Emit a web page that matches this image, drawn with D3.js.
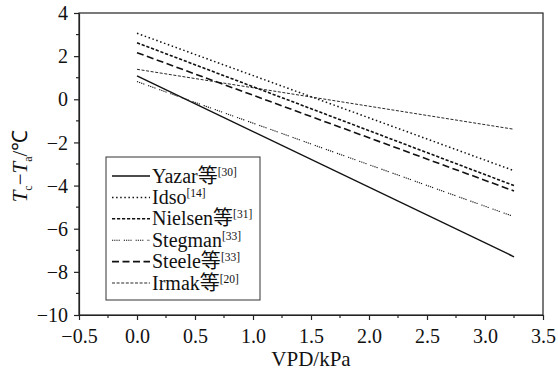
<!DOCTYPE html>
<html><head><meta charset="utf-8">
<script src="https://cdn.jsdelivr.net/npm/d3@7"></script>
<style>body{margin:0;background:#fff}svg{display:block}</style>
</head><body><svg id="c" width="558" height="371"></svg>
<script>
const seriesNames = ["Yazar等", "Idso", "Nielsen等", "Stegman", "Steele等", "Irmak等"];
const seriesRefs = ["[30]", "[14]", "[31]", "[33]", "[33]", "[20]"];
const vpdRange = [0, 3.25];
const startValues = [1.08, 3.06, 2.62, 0.82, 2.16, 1.39];
const endValues = [-7.30, -3.31, -4.00, -5.44, -4.25, -1.39];
const xTicks = [-0.5, 0.0, 0.5, 1.0, 1.5, 2.0, 2.5, 3.0, 3.5];
const yTicks = [4, 2, 0, -2, -4, -6, -8, -10];
const dashes = [null, "1.5,2.6", "3.2,1.8", "1.2,1,1.2,1,1.2,1,1.2,4", "7,3.5", "3,1.6"];
const widths = [1.4, 1.5, 1.6, 1.1, 1.6, 0.9];

const FONT = "Liberation Serif";
const svg = d3.select("#c").attr("font-family", FONT);
const L = 79, R = 543, T = 13, B = 315;
const x = d3.scaleLinear().domain([-0.5, 3.5]).range([L, R]);
const y = d3.scaleLinear().domain([-10, 4]).range([B, T]);
const fmtMinus = v => (v < 0 ? "\u2212" + Math.abs(v) : String(v));

svg.append("rect").attr("x", L).attr("y", T).attr("width", R - L).attr("height", B - T)
  .attr("fill", "none").attr("stroke", "#222").attr("stroke-width", 1.2);

const xAxis = d3.axisBottom(x).tickValues(xTicks).tickSize(5).tickSizeOuter(0);
const gx = svg.append("g").attr("transform", `translate(0,${B})`).call(xAxis).attr("font-family", FONT);
gx.select(".domain").attr("stroke", "#222").attr("stroke-width", 1.2);
gx.selectAll(".tick line").attr("stroke", "#222").attr("stroke-width", 1.2);
gx.selectAll(".tick text").attr("font-size", 20).attr("fill", "#111").attr("y", 28).attr("dy", null)
  .text(d => (d < 0 ? "\u2212" : "") + Math.abs(d).toFixed(1));
const xMinor = d3.range(-0.25, 3.5, 0.5);
svg.append("g").selectAll("line").data(xMinor).join("line")
  .attr("x1", d => x(d)).attr("x2", d => x(d)).attr("y1", B).attr("y2", B + 3).attr("stroke", "#222").attr("stroke-width", 1.2);

const yAxis = d3.axisLeft(y).tickValues(yTicks).tickSize(5).tickSizeOuter(0);
const gy = svg.append("g").attr("transform", `translate(${L},0)`).call(yAxis).attr("font-family", FONT);
gy.select(".domain").attr("stroke", "#222").attr("stroke-width", 1.2);
gy.selectAll(".tick line").attr("stroke", "#222").attr("stroke-width", 1.2);
gy.selectAll(".tick text").attr("font-size", 20).attr("fill", "#111").attr("x", -11).attr("dy", "0.33em").text(d => fmtMinus(d));
const yMinor = d3.range(-9, 4, 2);
svg.append("g").selectAll("line").data(yMinor).join("line")
  .attr("x1", L - 3).attr("x2", L).attr("y1", d => y(d)).attr("y2", d => y(d)).attr("stroke", "#222").attr("stroke-width", 1.2);

const line = d3.line().x(d => x(d[0])).y(d => y(d[1]));
seriesNames.forEach((n, i) => {
  svg.append("path").datum([[vpdRange[0], startValues[i]], [vpdRange[1], endValues[i]]])
    .attr("d", line).attr("fill", "none").attr("stroke", "#111")
    .attr("stroke-width", widths[i]).attr("stroke-dasharray", dashes[i]);
});

svg.append("rect").attr("x", 106).attr("y", 157).attr("width", 154).attr("height", 143)
  .attr("fill", "#fff").attr("stroke", "#333").attr("stroke-width", 1);
seriesNames.forEach((n, i) => {
  const yy = 176 + i * 21.4;
  svg.append("line").attr("x1", 112).attr("x2", 150).attr("y1", yy).attr("y2", yy)
    .attr("stroke", "#111").attr("stroke-width", widths[i]).attr("stroke-dasharray", dashes[i]);
  const t = svg.append("text").attr("x", 152).attr("y", yy + 6.5).attr("font-size", 20).attr("fill", "#111");
  t.append("tspan").attr("font-family", "Liberation Serif, Noto Sans CJK SC").text(n);
  t.append("tspan").attr("font-size", 11.5).attr("dy", -7).text(seriesRefs[i]);
});

svg.append("text").attr("x", x(1.5)).attr("y", 366).attr("text-anchor", "middle").attr("font-size", 21).attr("fill", "#111").text("VPD/kPa");
const yt = svg.append("text").attr("transform", `translate(27,166) rotate(-90)`)
  .attr("text-anchor", "middle").attr("font-size", 21).attr("fill", "#111");
yt.append("tspan").attr("font-style", "italic").text("T");
yt.append("tspan").attr("font-size", 12).attr("dy", 5).text("c");
yt.append("tspan").attr("dy", -5).text("\u2212");
yt.append("tspan").attr("font-style", "italic").text("T");
yt.append("tspan").attr("font-size", 12).attr("dy", 5).text("a");
yt.append("tspan").attr("dy", -5).text("/\u2103");
</script></body></html>
